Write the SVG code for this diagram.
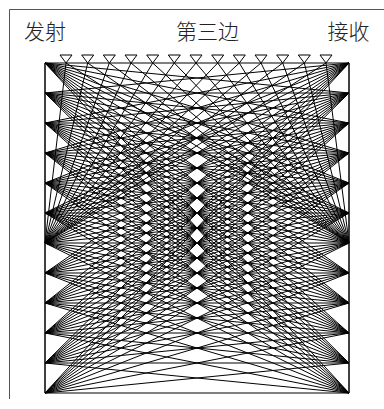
<svg xmlns="http://www.w3.org/2000/svg" width="384" height="409" viewBox="0 0 384 409">
<style>
.frame{stroke:#555;stroke-width:1;fill:none}
.lbl{font-family:"Noto Sans CJK SC","Noto Sans",sans-serif;font-size:21px;font-weight:300;fill:#222}
.ray{stroke:#000;stroke-width:1;fill:none}
.tri{stroke:#000;stroke-width:1;fill:#fff}
.axis{stroke:#000;stroke-width:1.5;fill:none}
</style>
<defs>
<path id="tm" d="M-6 55H6L0 63Z"/>
</defs>
<rect width="384" height="409" fill="#fff"/>
<path class="frame" d="M9.5 399V9.5H384"/>
<text class="lbl" x="24" y="39">发射</text>
<text class="lbl" x="207.5" y="39" text-anchor="middle">第三边</text>
<text class="lbl" x="348.5" y="39" text-anchor="middle">接收</text>
<g id="connectors">
<path class="ray" d="M45 63L349 63M45 63L349 93M45 63L349 123M45 63L349 153M45 63L349 183M45 63L349 213M45 63L349 243M45 63L349 273M45 63L349 303M45 63L349 333M45 63L349 363M45 63L349 393"/>
<path class="ray" d="M45 93L349 63M45 93L349 93M45 93L349 123M45 93L349 153M45 93L349 183M45 93L349 213M45 93L349 243M45 93L349 273M45 93L349 303M45 93L349 333M45 93L349 363M45 93L349 393"/>
<path class="ray" d="M45 123L349 63M45 123L349 93M45 123L349 123M45 123L349 153M45 123L349 183M45 123L349 213M45 123L349 243M45 123L349 273M45 123L349 303M45 123L349 333M45 123L349 363M45 123L349 393"/>
<path class="ray" d="M45 153L349 63M45 153L349 93M45 153L349 123M45 153L349 153M45 153L349 183M45 153L349 213M45 153L349 243M45 153L349 273M45 153L349 303M45 153L349 333M45 153L349 363M45 153L349 393"/>
<path class="ray" d="M45 183L349 63M45 183L349 93M45 183L349 123M45 183L349 153M45 183L349 183M45 183L349 213M45 183L349 243M45 183L349 273M45 183L349 303M45 183L349 333M45 183L349 363M45 183L349 393"/>
<path class="ray" d="M45 213L349 63M45 213L349 93M45 213L349 123M45 213L349 153M45 213L349 183M45 213L349 213M45 213L349 243M45 213L349 273M45 213L349 303M45 213L349 333M45 213L349 363M45 213L349 393"/>
<path class="ray" d="M45 243L349 63M45 243L349 93M45 243L349 123M45 243L349 153M45 243L349 183M45 243L349 213M45 243L349 243M45 243L349 273M45 243L349 303M45 243L349 333M45 243L349 363M45 243L349 393"/>
<path class="ray" d="M45 273L349 63M45 273L349 93M45 273L349 123M45 273L349 153M45 273L349 183M45 273L349 213M45 273L349 243M45 273L349 273M45 273L349 303M45 273L349 333M45 273L349 363M45 273L349 393"/>
<path class="ray" d="M45 303L349 63M45 303L349 93M45 303L349 123M45 303L349 153M45 303L349 183M45 303L349 213M45 303L349 243M45 303L349 273M45 303L349 303M45 303L349 333M45 303L349 363M45 303L349 393"/>
<path class="ray" d="M45 333L349 63M45 333L349 93M45 333L349 123M45 333L349 153M45 333L349 183M45 333L349 213M45 333L349 243M45 333L349 273M45 333L349 303M45 333L349 333M45 333L349 363M45 333L349 393"/>
<path class="ray" d="M45 363L349 63M45 363L349 93M45 363L349 123M45 363L349 153M45 363L349 183M45 363L349 213M45 363L349 243M45 363L349 273M45 363L349 303M45 363L349 333M45 363L349 363M45 363L349 393"/>
<path class="ray" d="M45 393L349 63M45 393L349 93M45 393L349 123M45 393L349 153M45 393L349 183M45 393L349 213M45 393L349 243M45 393L349 273M45 393L349 303M45 393L349 333M45 393L349 363M45 393L349 393"/>
<path class="ray" d="M45 243L66 63L349 243M45 243L87.7 63L349 243M45 243L109.3 63L349 243M45 243L131 63L349 243M45 243L152.7 63L349 243M45 243L174.3 63L349 243M45 243L196 63L349 243M45 243L217.7 63L349 243M45 243L239.3 63L349 243M45 243L261 63L349 243M45 243L282.7 63L349 243M45 243L304.3 63L349 243M45 243L326 63L349 243"/>
</g>
<g id="transmitters"><path class="axis" d="M45 63V393"/></g>
<g id="receivers"><path class="axis" d="M349 63V393"/></g>
<g id="third-side">
<g id="r1"><use href="#tm" class="tri" x="66"/></g>
<g id="r2"><use href="#tm" class="tri" x="87.7"/></g>
<g id="r3"><use href="#tm" class="tri" x="109.3"/></g>
<g id="r4"><use href="#tm" class="tri" x="131"/></g>
<g id="r5"><use href="#tm" class="tri" x="152.7"/></g>
<g id="r6"><use href="#tm" class="tri" x="174.3"/></g>
<g id="r7"><use href="#tm" class="tri" x="196"/></g>
<g id="r8"><use href="#tm" class="tri" x="217.7"/></g>
<g id="r9"><use href="#tm" class="tri" x="239.3"/></g>
<g id="r10"><use href="#tm" class="tri" x="261"/></g>
<g id="r11"><use href="#tm" class="tri" x="282.7"/></g>
<g id="r12"><use href="#tm" class="tri" x="304.3"/></g>
<g id="r13"><use href="#tm" class="tri" x="326"/></g>
</g>
</svg>
